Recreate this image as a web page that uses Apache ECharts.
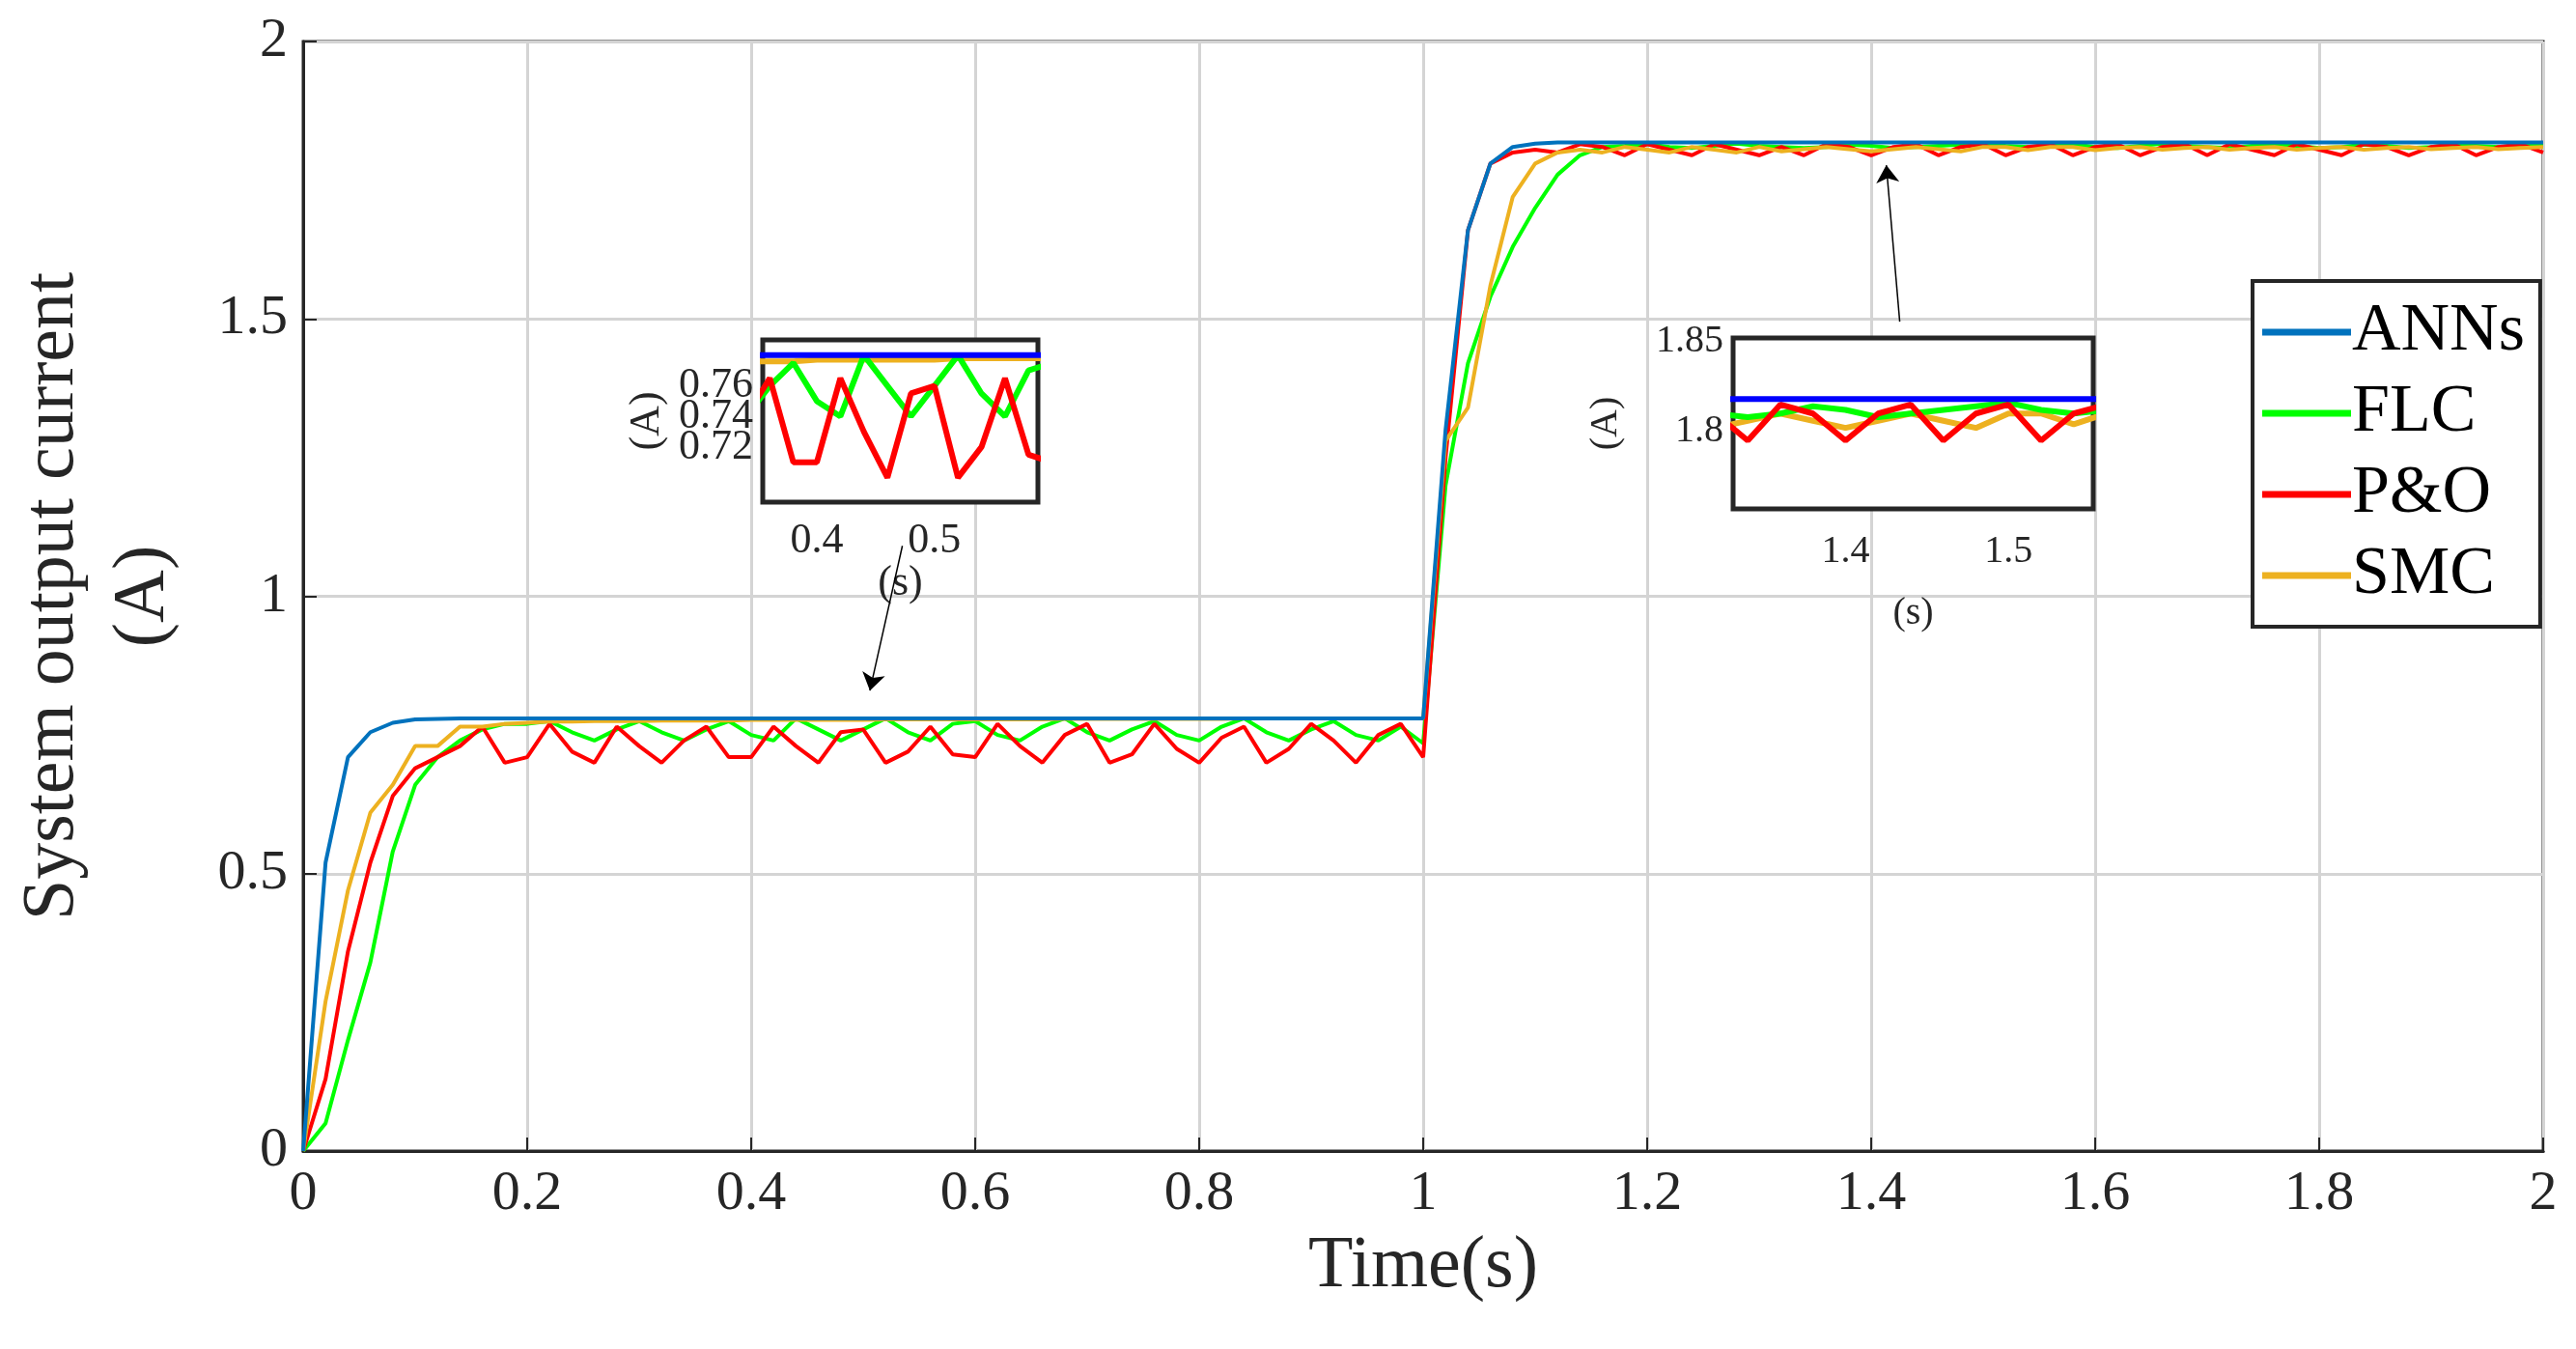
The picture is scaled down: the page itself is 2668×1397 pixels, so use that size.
<!DOCTYPE html>
<html><head><meta charset="utf-8">
<script src="https://cdn.jsdelivr.net/npm/echarts@6/dist/echarts.min.js"></script>
<style>html,body{margin:0;padding:0;background:#fff}#c{width:2668px;height:1397px}</style>
</head><body><div id="c"></div>
<script>
const time = [0,0.02,0.04,0.06,0.08,0.10,0.12,0.14,0.16,0.18,0.20,0.22,0.24,0.26,0.28,0.30,0.32,0.34,0.36,0.38,0.40,0.42,0.44,0.46,0.48,0.50,0.52,0.54,0.56,0.58,0.60,0.62,0.64,0.66,0.68,0.70,0.72,0.74,0.76,0.78,0.80,0.82,0.84,0.86,0.88,0.90,0.92,0.94,0.96,0.98,1.00,1.02,1.04,1.06,1.08,1.10,1.12,1.14,1.16,1.18,1.20,1.22,1.24,1.26,1.28,1.30,1.32,1.34,1.36,1.38,1.40,1.42,1.44,1.46,1.48,1.50,1.52,1.54,1.56,1.58,1.60,1.62,1.64,1.66,1.68,1.70,1.72,1.74,1.76,1.78,1.80,1.82,1.84,1.86,1.88,1.90,1.92,1.94,1.96,1.98,2.00];
const anns = [0,0.52,0.71,0.755,0.772,0.778,0.779,0.78,0.78,0.78,0.78,0.78,0.78,0.78,0.78,0.78,0.78,0.78,0.78,0.78,0.78,0.78,0.78,0.78,0.78,0.78,0.78,0.78,0.78,0.78,0.78,0.78,0.78,0.78,0.78,0.78,0.78,0.78,0.78,0.78,0.78,0.78,0.78,0.78,0.78,0.78,0.78,0.78,0.78,0.78,0.78,1.30,1.66,1.78,1.81,1.816,1.818,1.818,1.818,1.818,1.818,1.818,1.818,1.818,1.818,1.818,1.818,1.818,1.818,1.818,1.818,1.818,1.818,1.818,1.818,1.818,1.818,1.818,1.818,1.818,1.818,1.818,1.818,1.818,1.818,1.818,1.818,1.818,1.818,1.818,1.818,1.818,1.818,1.818,1.818,1.818,1.818,1.818,1.818,1.818,1.818];
const flc = [0,0.05,0.2,0.34,0.54,0.66,0.71,0.74,0.76,0.77,0.77,0.775,0.755,0.74,0.76,0.775,0.755,0.74,0.76,0.775,0.75,0.74,0.78,0.76,0.74,0.76,0.78,0.755,0.74,0.77,0.775,0.75,0.74,0.765,0.78,0.755,0.74,0.76,0.775,0.75,0.74,0.765,0.78,0.755,0.74,0.76,0.775,0.75,0.74,0.765,0.735,1.2,1.42,1.54,1.63,1.70,1.76,1.795,1.81,1.812,1.815,1.81,1.808,1.812,1.816,1.812,1.81,1.808,1.81,1.814,1.812,1.808,1.81,1.812,1.814,1.816,1.812,1.81,1.812,1.815,1.81,1.808,1.812,1.816,1.812,1.81,1.808,1.812,1.815,1.812,1.808,1.81,1.814,1.812,1.808,1.81,1.814,1.812,1.81,1.812,1.814];
const pao = [0,0.13,0.36,0.52,0.64,0.69,0.71,0.73,0.765,0.70,0.71,0.77,0.72,0.70,0.765,0.73,0.70,0.74,0.765,0.71,0.71,0.765,0.73,0.70,0.755,0.76,0.70,0.72,0.765,0.715,0.71,0.77,0.73,0.70,0.75,0.77,0.70,0.715,0.77,0.725,0.70,0.745,0.765,0.70,0.725,0.77,0.74,0.70,0.75,0.77,0.71,1.25,1.66,1.78,1.80,1.805,1.80,1.815,1.81,1.795,1.815,1.805,1.795,1.815,1.805,1.795,1.81,1.795,1.815,1.81,1.795,1.81,1.815,1.795,1.81,1.815,1.795,1.81,1.815,1.795,1.81,1.815,1.795,1.81,1.815,1.795,1.815,1.805,1.795,1.815,1.805,1.795,1.815,1.81,1.795,1.81,1.815,1.795,1.81,1.815,1.80];
const smc = [0,0.27,0.47,0.61,0.66,0.73,0.73,0.765,0.765,0.77,0.772,0.774,0.774,0.775,0.775,0.775,0.776,0.776,0.776,0.776,0.777,0.777,0.777,0.777,0.777,0.777,0.778,0.778,0.778,0.778,0.778,0.778,0.778,0.778,0.779,0.779,0.779,0.779,0.779,0.779,0.779,0.779,0.78,0.78,0.78,0.78,0.78,0.78,0.78,0.78,0.78,1.28,1.34,1.56,1.72,1.78,1.80,1.805,1.80,1.81,1.805,1.80,1.81,1.805,1.80,1.81,1.802,1.806,1.81,1.806,1.802,1.806,1.81,1.806,1.802,1.81,1.81,1.804,1.81,1.81,1.804,1.808,1.81,1.805,1.808,1.81,1.805,1.808,1.81,1.805,1.808,1.81,1.805,1.808,1.81,1.806,1.808,1.81,1.806,1.808,1.81];
const xTicks = [0,0.2,0.4,0.6,0.8,1,1.2,1.4,1.6,1.8,2];
const yTicks = [0,0.5,1,1.5,2];
const inset1Y = [0.7,0.72,0.74,0.76,0.78];
const inset1X = [0.4,0.45,0.5,0.55];
const inset2Y = [1.8,1.85];
const inset2X = [1.35,1.4,1.45,1.5,1.55];
const names = ['ANNs','FLC','P&O','SMC'];
const arrows = [[[0.535,1.091],[0.506,0.83]],[[1.4255,1.495],[1.4135,1.777]]];

const F = 'Liberation Serif';
const colors = ['#0072BD','#00FF00','#FF0000','#EDB120'];
const insetColors = ['#0000FF','#00FF00','#FF0000','#EDB120'];
const all = [anns,flc,pao,smc];
const pairs = a => time.map((t,i)=>[t,a[i]]);
const gridLine = {show:true,lineStyle:{color:'#d4d4d4',width:3}};
const lbl = v => (Math.round(v*100)/100).toString();

function insetAxes(gi, xr, yr, xt, yt, xLabelFilter, o){
  return {
    x:{type:'value',gridIndex:gi,min:xr[0],max:xr[1],
      axisLine:{show:true,onZero:false,lineStyle:{color:'#262626',width:4}},
      axisTick:{show:true,inside:true,length:6,lineStyle:{color:'#262626',width:3},customValues:xt},
      splitLine:{show:true,lineStyle:{color:'#d4d4d4',width:3}},
      axisLabel:{customValues:xt.filter(xLabelFilter),formatter:lbl,fontFamily:F,fontSize:o.fs,color:'#262626',margin:o.xm},
      name:'(s)',nameLocation:'middle',nameGap:o.sg,nameTextStyle:{fontFamily:F,fontSize:o.fs,color:'#262626'}},
    y:{type:'value',gridIndex:gi,min:yr[0],max:yr[1],
      axisLine:{show:true,onZero:false,lineStyle:{color:'#262626',width:4}},
      axisTick:{show:true,inside:true,length:6,lineStyle:{color:'#262626',width:3},customValues:yt},
      splitLine:{show:true,lineStyle:{color:'#d4d4d4',width:3}},
      axisLabel:{customValues:yt,formatter:lbl,fontFamily:F,fontSize:o.fs,color:'#262626',margin:10},
      name:'(A)',nameLocation:'middle',nameGap:o.ag,nameRotate:90,nameTextStyle:{fontFamily:F,fontSize:o.fs,color:'#262626'}}
  };
}
const isTenth = v=>Math.abs(v*10-Math.round(v*10))<1e-6;
const in1 = insetAxes(1,[0.354,0.588],[0.684,0.79],inset1X,inset1Y,isTenth,{fs:44,xm:18,sg:52,ag:98});
const in2 = insetAxes(2,[1.331,1.552],[1.757,1.852],inset2X,inset2Y,isTenth,{fs:40,xm:24,sg:88,ag:112});

const series = [];
all.forEach((a,i)=>series.push({name:names[i],type:'line',xAxisIndex:0,yAxisIndex:0,data:pairs(a),showSymbol:false,lineStyle:{color:colors[i],width:4},itemStyle:{color:colors[i]},z:5+(i===0?4:i)}));
[1,2].forEach(g=>{
  [3,1,2,0].forEach(i=>series.push({type:'line',xAxisIndex:g,yAxisIndex:g,data:pairs(all[i]),showSymbol:false,clip:true,lineStyle:{color:insetColors[i],width:6},z:10,silent:true}));
});
series.push({type:'lines',coordinateSystem:'cartesian2d',xAxisIndex:0,yAxisIndex:0,symbol:['none','arrow'],symbolSize:18,lineStyle:{color:'#000',width:1.5,opacity:1},data:arrows.map(c=>({coords:c})),z:8,silent:true});

const chart = echarts.init(document.getElementById('c'));
chart.setOption({
  backgroundColor:'#fff',animation:false,
  legend:{data:names.map((n,i)=>({name:n,itemStyle:{color:colors[i]}})),orient:'vertical',left:2333,top:291,width:297,
    backgroundColor:'#fff',borderColor:'#262626',borderWidth:4,padding:[18,16,18,10],itemGap:14,itemWidth:92,itemHeight:7,
    icon:'rect',textStyle:{fontFamily:F,fontSize:70,color:'#000',padding:[0,0,0,-4]}},
  grid:[
    {left:298,right:34,top:43,bottom:205,show:true,borderColor:'#262626',borderWidth:3},
    {left:790,width:285,top:352,height:168,show:true,backgroundColor:'#fff',borderColor:'#262626',borderWidth:5,z:3},
    {left:1795,width:373,top:350,height:177,show:true,backgroundColor:'#fff',borderColor:'#262626',borderWidth:5,z:3}
  ],
  xAxis:[
    {type:'value',gridIndex:0,min:0,max:2,interval:0.2,
      axisLine:{show:true,onZero:false,lineStyle:{color:'#262626',width:3}},
      axisTick:{show:true,inside:true,length:14,lineStyle:{color:'#262626',width:2}},
      splitLine:gridLine,
      axisLabel:{formatter:lbl,fontFamily:F,fontSize:58,color:'#262626',margin:16},
      name:'Time(s)',nameLocation:'middle',nameGap:82,nameTextStyle:{fontFamily:F,fontSize:76,color:'#262626'}},
    in1.x,in2.x],
  yAxis:[
    {type:'value',gridIndex:0,min:0,max:2,interval:0.5,
      axisLine:{show:true,onZero:false,lineStyle:{color:'#262626',width:3}},
      axisTick:{show:true,inside:true,length:14,lineStyle:{color:'#262626',width:2}},
      splitLine:gridLine,
      axisLabel:{formatter:lbl,fontFamily:F,fontSize:58,color:'#262626',margin:16},
      name:'System output current\n(A)',nameLocation:'middle',nameGap:118,nameTextStyle:{fontFamily:F,fontSize:76,color:'#262626',lineHeight:94,align:'center'}},
    in1.y,in2.y],
  series
});
</script></body></html>
